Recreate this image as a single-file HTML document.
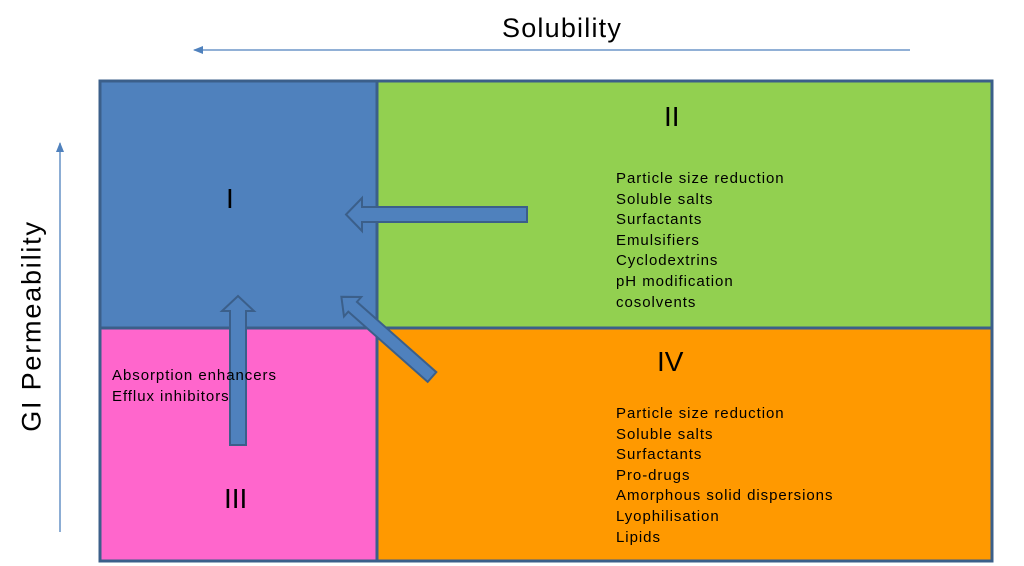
<!DOCTYPE html>
<html><head><style>
body{margin:0;width:1024px;height:566px;background:#fff;position:relative;overflow:hidden;font-family:"Liberation Sans",sans-serif}
.t{position:absolute;color:#000}
.l{position:absolute;font-size:15px;line-height:20.6px;color:#000;letter-spacing:0.95px;white-space:nowrap}
.n{position:absolute;font-size:28px;color:#000}
</style></head><body>
<svg width="1024" height="566" style="position:absolute;left:0;top:0">
<defs><marker id="a" markerWidth="10" markerHeight="8" refX="9" refY="4" orient="auto" markerUnits="userSpaceOnUse"><path d="M0,0 L10,4 L0,8 Z" fill="#4f81bd"/></marker></defs>
<line x1="910" y1="50" x2="194" y2="50" stroke="#4f81bd" stroke-width="1.3" marker-end="url(#a)"/>
<line x1="60" y1="532" x2="60" y2="143" stroke="#4f81bd" stroke-width="1.3" marker-end="url(#a)"/>
<rect x="100" y="81" width="277" height="247" fill="#4f81bd"/>
<rect x="377" y="81" width="615" height="247" fill="#92d050"/>
<rect x="100" y="328" width="277" height="233" fill="#ff66cc"/>
<rect x="377" y="328" width="615" height="233" fill="#ff9900"/>
<g stroke="#3b5f8a" stroke-width="3" fill="none">
<rect x="100" y="81" width="892" height="480"/>
<line x1="377" y1="81" x2="377" y2="561"/>
<line x1="100" y1="328" x2="992" y2="328"/>
</g>
<g fill="#4f81bd" stroke="#3b5f8a" stroke-width="2" stroke-linejoin="miter">
<path d="M527,207 L362,207 L362,198 L346,214.5 L362,231 L362,222 L527,222 Z"/>
<path d="M230,445 L230,311 L222,311 L238,296 L254,311 L246,311 L246,445 Z"/>
<g transform="translate(432,377) rotate(-138.5)">
<path d="M0,-6.5 L106,-6.5 L106,-13 L121,0 L106,13 L106,6.5 L0,6.5 Z"/>
</g>
</g>
</svg>
<div class="t" style="left:502px;top:13px;font-size:27px;letter-spacing:1.2px">Solubility</div>
<div class="t" style="left:32px;top:326px;font-size:27px;letter-spacing:1.8px;transform:translate(-50%,-50%) rotate(-90deg);white-space:nowrap">GI Permeability</div>
<div class="n" style="left:226px;top:183px">I</div>
<div class="n" style="left:664px;top:101px">II</div>
<div class="n" style="left:224px;top:483px">III</div>
<div class="n" style="left:657px;top:346px">IV</div>
<div class="l" style="left:616px;top:169px">Particle size reduction<br>Soluble salts<br>Surfactants<br>Emulsifiers<br>Cyclodextrins<br>pH modification<br>cosolvents</div>
<div class="l" style="left:112px;top:366px">Absorption enhancers<br>Efflux inhibitors</div>
<div class="l" style="left:616px;top:404px">Particle size reduction<br>Soluble salts<br>Surfactants<br>Pro-drugs<br>Amorphous solid dispersions<br>Lyophilisation<br>Lipids</div>
</body></html>
